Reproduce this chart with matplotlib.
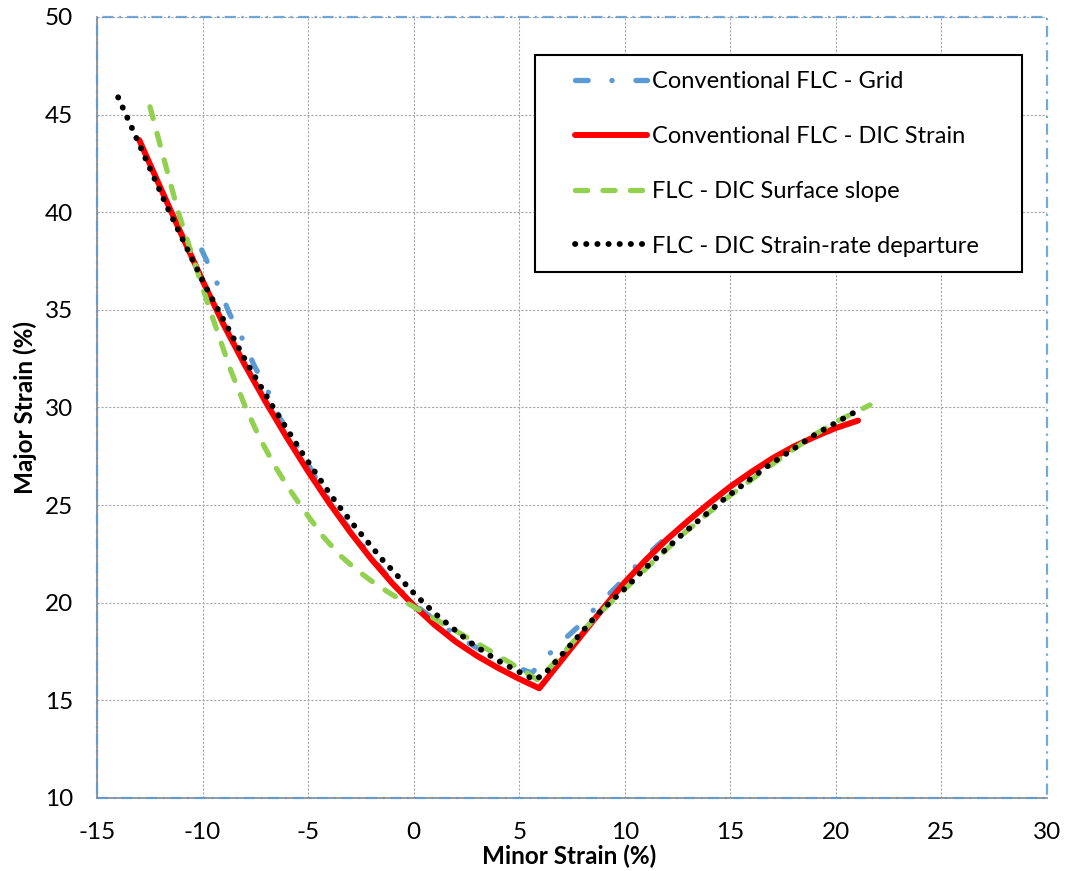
import matplotlib
matplotlib.use("Agg")
import matplotlib.pyplot as plt
from matplotlib.patches import Rectangle

plt.rcParams["font.family"] = ["Lato", "DejaVu Sans"]
plt.rcParams["axes.unicode_minus"] = False

# Forming limit curves: minor strain (%) vs major strain (%)
grid_x = [-10.04, -9.25, -8.75, -8.1, -7.56, -6.88, -6.33, -5.07, -4.67, -3.73,
          -1.68, -0.81, 0.07, 1.32, 2.2, 3.62, 5.12, 5.6, 6.0, 6.84, 7.88, 8.73,
          9.68, 10.58, 11.57, 12.0]
grid_y = [38.07, 36.22, 34.87, 33.49, 32.16, 30.78, 29.45, 27.23, 26.46, 24.75,
          21.93, 20.82, 19.88, 18.85, 18.2, 17.3, 16.6, 16.4, 16.9, 17.84, 18.86,
          19.88, 20.9, 21.93, 22.96, 23.35]

dic_x = [-13.0, -12.0, -11.0, -10.0, -9.0, -8.0, -7.0, -6.0, -5.0, -4.0, -3.0,
         -2.0, -1.0, 0.0, 1.0, 2.0, 3.0, 4.0, 5.0, 5.95, 7.0, 8.0, 9.0, 10.0,
         11.0, 12.0, 13.0, 14.0, 15.0, 16.0, 17.0, 18.0, 19.0, 20.0, 21.05]
dic_y = [43.7, 41.27, 38.87, 36.5, 34.24, 32.19, 30.27, 28.45, 26.73, 25.11,
         23.61, 22.23, 20.98, 19.86, 18.86, 18.0, 17.28, 16.66, 16.1, 15.62,
         17.05, 18.4, 19.75, 21.05, 22.2, 23.25, 24.2, 25.1, 25.95, 26.7, 27.4,
         28.0, 28.5, 28.95, 29.33]

slope_x = [-12.49, -11.8, -11.15, -10.0, -9.65, -8.7, -7.96, -7.3, -6.6, -6.0,
           -5.36, -4.28, -3.49, -2.7, -1.83, -0.97, 0.14, 0.77, 1.56, 2.2, 3.3,
           4.17, 5.04, 5.9, 6.3, 7.6, 8.7, 10.2, 10.9, 12.8, 14.75, 16.8, 18.9,
           20.0, 21.62]
slope_y = [45.4, 42.6, 40.0, 36.15, 35.0, 32.0, 30.0, 28.45, 27.05, 26.0, 24.98,
           23.38, 22.43, 21.68, 20.98, 20.38, 19.71, 19.32, 18.83, 18.43, 17.74,
           17.18, 16.61, 16.04, 16.5, 18.05, 19.35, 20.9, 21.65, 23.55, 25.3,
           26.95, 28.55, 29.27, 30.13]

rate_x = [-14.0, -13.36, -12.52, -11.67, -10.78, -9.88, -8.89, -7.91, -6.65, -5.3,
          -4.04, -3.58, -2.78, -1.47, -0.06, 0.47, 1.04, 1.8, 2.64, 3.93, 5.27,
          5.75, 6.3, 7.64, 8.67, 10.17, 10.88, 12.78, 14.75, 16.77, 18.9, 20.0,
          21.14]
rate_y = [45.89, 44.35, 42.31, 40.25, 38.24, 36.24, 34.26, 32.3, 30.0, 27.7,
          25.69, 25.0, 23.9, 22.19, 20.57, 20.0, 19.42, 18.74, 18.0, 17.07, 16.3,
          16.04, 16.47, 18.09, 19.37, 20.9, 21.68, 23.56, 25.35, 27.0, 28.54,
          29.22, 29.91]

series_labels = ["Conventional FLC - Grid", "Conventional FLC - DIC Strain",
                 "FLC - DIC Surface slope", "FLC - DIC Strain-rate departure"]
x_ticks = [-15, -10, -5, 0, 5, 10, 15, 20, 25, 30]
y_ticks = [10, 15, 20, 25, 30, 35, 40, 45, 50]

W, H = 1065, 871
fig = plt.figure(figsize=(W / 100, H / 100), dpi=100)
ax = fig.add_axes([97 / W, 1 - 798 / H, (1047 - 97) / W, (798 - 17) / H])

ax.plot(grid_x, grid_y, color="#5B9BD5", lw=3.8, dash_capstyle="round",
        linestyle=(0, (2.4, 4.5, 0.05, 4.5)), label=series_labels[0], zorder=3)
ax.plot(dic_x, dic_y, color="#FF0000", lw=4.3, solid_capstyle="round",
        solid_joinstyle="round", label=series_labels[1], zorder=4)
ax.plot(slope_x, slope_y, color="#92D050", lw=3.8, dash_capstyle="round",
        linestyle=(0, (2.3, 2.9)), label=series_labels[2], zorder=5)
ax.plot(rate_x, rate_y, color="black", lw=4.2, dash_capstyle="round",
        linestyle=(0, (0.05, 1.86)), label=series_labels[3], zorder=6)

ax.set_xlim(-15, 30)
ax.set_ylim(10, 50)
ax.set_xticks(x_ticks)
ax.set_yticks(y_ticks)
ax.tick_params(length=0, labelsize=17.5, pad=17, colors="black")

ax.grid(True, color="#a6a6a6", lw=0.8, linestyle=(0, (2, 1.5)), zorder=0)
ax.set_axisbelow(True)

for side in ("top", "right"):
    ax.spines[side].set_visible(False)
for side in ("left", "bottom"):
    ax.spines[side].set_color("#868686")
    ax.spines[side].set_linewidth(1.2)

# dash-dot plot-area border
ax.add_patch(Rectangle((0, 0), 1, 1, transform=ax.transAxes, fill=False,
                       edgecolor="#5B9BD5", lw=1.6, alpha=0.85,
                       linestyle=(0, (5, 2.5, 1, 2.5)), clip_on=False,
                       zorder=7))

fig.text(569 / W, 1 - 856 / H, "Minor Strain (%)", ha="center", va="center",
         fontsize=17.5, fontweight="bold")
fig.text(25 / W, 1 - 407.5 / H, "Major Strain (%)", ha="center", va="center",
         rotation=90, fontsize=17.5, fontweight="bold")

# legend box
ax.add_patch(Rectangle((535 / W, 1 - 272 / H), (1022 - 535) / W,
                       (272 - 55) / H, transform=fig.transFigure,
                       facecolor="white", edgecolor="black", lw=1.5,
                       clip_on=False, zorder=8))
leg = ax.legend(loc="center left", bbox_to_anchor=(575 / W, 1 - 163.9 / H),
                bbox_transform=fig.transFigure, frameon=False, fontsize=17,
                handlelength=3.05, handletextpad=0.21, labelspacing=1.43,
                borderpad=0, borderaxespad=0)
leg.set_zorder(9)

fig.savefig("out.png", dpi=100)
